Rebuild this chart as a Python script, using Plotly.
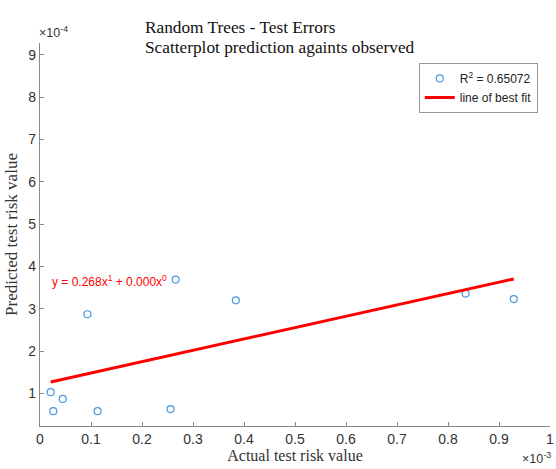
import numpy as np
import plotly.graph_objects as go

# Values in displayed units: x in 1e-3, y in 1e-4
actual = [0.021, 0.026, 0.0445, 0.093, 0.113, 0.256, 0.266, 0.384, 0.8345, 0.929]
predicted = [1.03, 0.58, 0.87, 2.87, 0.58, 0.63, 3.69, 3.20, 3.36, 3.23]
fit_slope = 2.68   # 0.268 in real units (1e-4 / 1e-3 scaling)
fit_intercept = 1.214
x_ticks = [0, 0.1, 0.2, 0.3, 0.4, 0.5, 0.6, 0.7, 0.8, 0.9, 1]
x_tick_labels = ["0", "0.1", "0.2", "0.3", "0.4", "0.5", "0.6", "0.7", "0.8", "0.9", "1"]
y_ticks = [1, 2, 3, 4, 5, 6, 7, 8, 9]
r2_label = "R<sup>2</sup> = 0.65072"
eq_label = "y = 0.268x<sup>1</sup> + 0.000x<sup>0</sup>"

line_x = np.array([min(actual), max(actual)])
line_y = fit_slope * line_x + fit_intercept

serif = "Liberation Serif"
sans = "Liberation Sans"

fig = go.Figure()
fig.add_trace(go.Scatter(
    x=actual, y=predicted, mode="markers", name=r2_label,
    marker=dict(symbol="circle-open", size=7, color="#4a97dc", line=dict(width=1.2)),
))
fig.add_trace(go.Scatter(
    x=line_x, y=line_y, mode="lines", name="line of best fit",
    line=dict(color="#ff0000", width=3),
))

axis_common = dict(
    showline=True, linecolor="#8a8a8a", linewidth=1.2, mirror=False,
    ticks="inside", ticklen=4, tickcolor="#8a8a8a",
    showgrid=False, zeroline=False, automargin=False,
    tickfont=dict(family=sans, size=14, color="#333333"),
)
fig.update_xaxes(range=[0, 1], tickvals=x_ticks, ticktext=x_tick_labels,
                 title=dict(text="Actual test risk value", font=dict(family=serif, size=16, color="#333333"), standoff=2),
                 **axis_common)
fig.update_yaxes(range=[0.23, 9.28], tickvals=y_ticks,
                 title=dict(text="Predicted test risk value", font=dict(family=serif, size=17, color="#333333"), standoff=6),
                 **axis_common)

annotations = [
    dict(text="Random Trees - Test Errors", xref="paper", yref="paper",
         x=(143 - 40) / 510, y=1.0 + (43 - 28) / 383, xanchor="left", yanchor="middle",
         showarrow=False, font=dict(family=serif, size=17.3, color="#111111")),
    dict(text="Scatterplot prediction againts observed", xref="paper", yref="paper",
         x=(143 - 40) / 510, y=1.0 + (43 - 47) / 383, xanchor="left", yanchor="middle",
         showarrow=False, font=dict(family=serif, size=17.3, color="#111111")),
    dict(text="×10<sup>-4</sup>", xref="paper", yref="paper", x=-0.005, y=1.0 + 1 / 383, xanchor="left", yanchor="bottom",
         showarrow=False, font=dict(family=sans, size=12.5, color="#333333")),
    dict(text="×10<sup>-3</sup>", xref="paper", yref="paper", x=1.005, y=(426 - 458) / 383, xanchor="right", yanchor="middle",
         showarrow=False, font=dict(family=sans, size=12.5, color="#333333")),
    dict(text=eq_label, xref="x", yref="y", x=0.02, y=3.65, xanchor="left", yanchor="middle",
         showarrow=False, font=dict(family=sans, size=12, color="#ff0000")),
]

fig.update_layout(
    width=556, height=469,
    margin=dict(l=40, r=6, t=43, b=43),
    paper_bgcolor="white", plot_bgcolor="white",
    annotations=annotations,
    showlegend=True,
    legend=dict(x=0.976, y=0.948, xanchor="right", yanchor="top",
                bgcolor="white", bordercolor="#999999", borderwidth=1,
                font=dict(family=sans, size=12, color="#222222"),
                itemwidth=30, tracegroupgap=0),
)

fig.write_html("out.html", config={"displayModeBar": False},
               post_script="document.body.style.margin='0';document.body.style.overflow='hidden';")
